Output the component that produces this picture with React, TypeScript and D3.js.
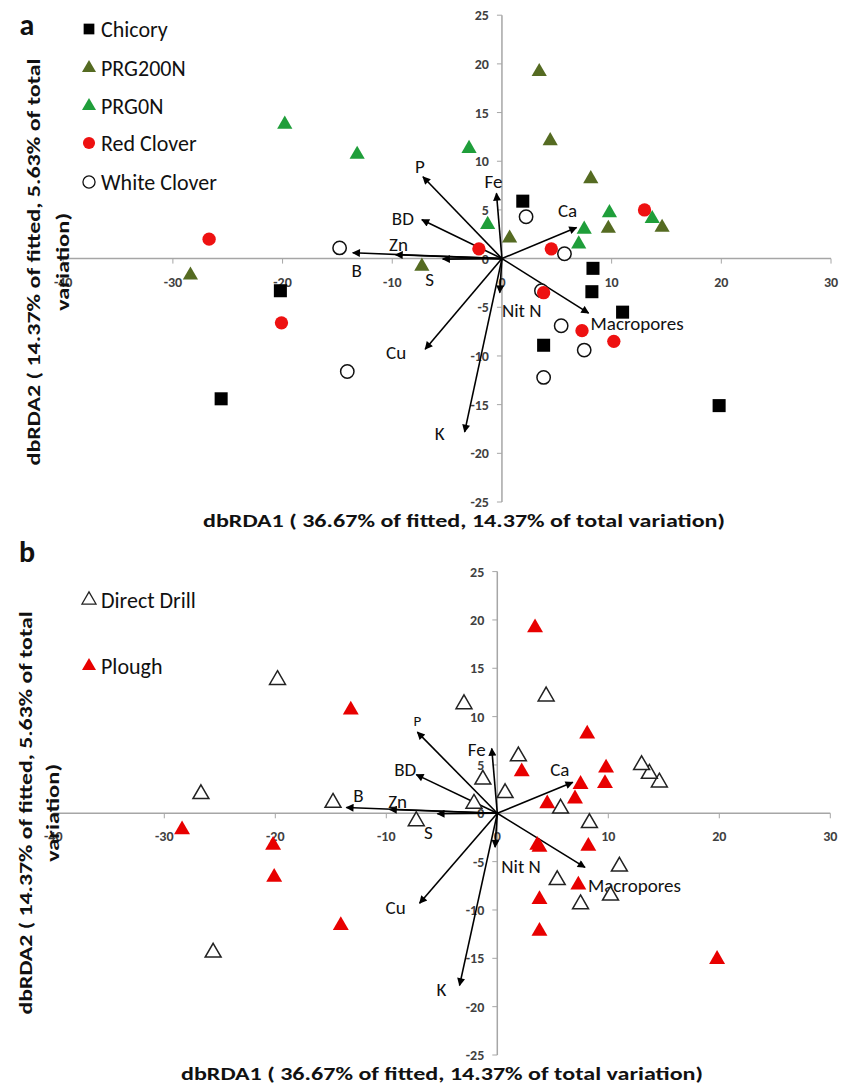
import React, { useEffect, useRef } from 'react';
import * as d3 from 'd3';

// dbRDA scores per treatment (dbRDA1, dbRDA2)
const chicoryX = [1.9, 8.3, 8.2, 11.0, 3.8, 19.8, -20.2, -25.6];
const chicoryY = [5.9, -1.0, -3.4, -5.5, -8.9, -15.1, -3.3, -14.4];
const chicoryTill = ['DD', 'DD', 'P', 'DD', 'P', 'P', 'P', 'DD'];

const prg200X = [-28.4, 3.4, 4.4, 8.1, 9.7, 14.6, 0.7, -7.3];
const prg200Y = [-1.7, 19.2, 12.1, 8.2, 3.1, 3.2, 2.1, -0.8];
const prg200Till = ['P', 'P', 'DD', 'P', 'P', 'DD', 'DD', 'DD'];

const prg0X = [-19.8, -13.2, -3.0, 9.8, 13.7, 7.5, 7.0, -1.3];
const prg0Y = [13.8, 10.7, 11.3, 4.7, 4.1, 3.0, 1.5, 3.5];
const prg0Till = ['DD', 'P', 'DD', 'P', 'DD', 'P', 'P', 'DD'];

const redX = [-26.7, -20.1, -2.1, 4.5, 13.0, 3.8, 7.3, 10.2];
const redY = [2.0, -6.6, 1.0, 1.0, 5.0, -3.5, -7.4, -8.5];
const redTill = ['DD', 'P', 'DD', 'P', 'DD', 'P', 'P', 'DD'];

const whiteX = [-14.8, -14.1, 2.2, 5.7, 5.4, 7.5, 3.8, 3.6];
const whiteY = [1.1, -11.6, 4.3, 0.5, -6.9, -9.4, -12.2, -3.3];
const whiteTill = ['DD', 'P', 'P', 'DD', 'DD', 'DD', 'P', 'P'];

// environmental vectors
const vecNames = ['P', 'Fe', 'BD', 'Zn', 'B', 'S', 'Ca', 'Nit N', 'Macropores', 'Cu', 'K'];
const vecX = [-7.2, -0.5, -7.3, -9.7, -13.6, -5.4, 6.8, -0.2, 7.9, -7.0, -3.4];
const vecY = [8.4, 6.7, 4.0, 0.4, 0.6, -0.05, 3.2, -3.5, -5.6, -9.3, -17.8];

const xTicks = [-40, -30, -20, -10, 0, 10, 20, 30];
const yTicks = [-25, -20, -15, -10, -5, 0, 5, 10, 15, 20, 25];

const xTitle = 'dbRDA1 ( 36.67% of fitted, 14.37% of total variation)';
const yTitle1 = 'dbRDA2 ( 14.37% of fitted, 5.63% of total';
const yTitle2 = 'variation)';

const FONT = "Carlito, Lato, 'Open Sans', sans-serif";

const zip = (xs, ys) => xs.map((x, i) => ({ x, y: ys[i] }));

const groups = [
  { name: 'Chicory', pts: zip(chicoryX, chicoryY), till: chicoryTill, shape: 'square', fill: '#000', stroke: 'none' },
  { name: 'PRG200N', pts: zip(prg200X, prg200Y), till: prg200Till, shape: 'tri', fill: '#556b22', stroke: 'none' },
  { name: 'PRG0N', pts: zip(prg0X, prg0Y), till: prg0Till, shape: 'tri', fill: '#1f9e3a', stroke: 'none' },
  { name: 'Red Clover', pts: zip(redX, redY), till: redTill, shape: 'circle', fill: '#ee1111', stroke: 'none' },
  { name: 'White Clover', pts: zip(whiteX, whiteY), till: whiteTill, shape: 'circle', fill: '#fff', stroke: '#111' },
];

// label nudges from arrow tips, px
const nudgeA = {
  P: [-3, -10], Fe: [-3, -12], BD: [-19, -1], Zn: [3, -10], B: [4, 18], S: [-13, 20],
  Ca: [-9, -17], 'Nit N': [22, 18], Macropores: [2, 10], Cu: [-29, 3], K: [-25, 2],
};
const nudgeB = {
  P: [0, -11], Fe: [-15, 1], BD: [-11, -5], Zn: [8, -8], B: [12, -12], S: [-9, 19],
  Ca: [-13, -13], 'Nit N': [26, 19], Macropores: [3, 18], Cu: [-24, 4], K: [-18, 4],
};

const symbolPath = (shape, big) => {
  if (shape === 'square') return d3.symbol(d3.symbolSquare, 170)();
  if (shape === 'tri') return d3.symbol(d3.symbolTriangle, big ? 110 : 100)();
  return d3.symbol(d3.symbolCircle, 140)();
};

function drawPanel(svg, cfg) {
  const x = d3.scaleLinear().domain([-40, 30]).range([cfg.left, cfg.right]);
  const y = d3.scaleLinear().domain([-25, 25]).range([cfg.bottom, cfg.top]);
  const g = svg.append('g');
  const x0 = x(0), y0 = y(0);

  // axes through the origin
  g.append('line').attr('x1', x(-40)).attr('x2', x(30)).attr('y1', y0).attr('y2', y0)
    .attr('stroke', '#a6a6a6').attr('stroke-width', 1.5);
  g.append('line').attr('x1', x0).attr('x2', x0).attr('y1', y(25)).attr('y2', y(-25))
    .attr('stroke', '#a6a6a6').attr('stroke-width', 1.5);
  g.selectAll('.xt').data(xTicks).enter().append('line')
    .attr('x1', d => x(d)).attr('x2', d => x(d)).attr('y1', y0).attr('y2', y0 + 5)
    .attr('stroke', '#a6a6a6');
  g.selectAll('.yt').data(yTicks).enter().append('line')
    .attr('x1', x0 - 5).attr('x2', x0).attr('y1', d => y(d)).attr('y2', d => y(d))
    .attr('stroke', '#a6a6a6');
  g.selectAll('.xl').data(xTicks).enter().append('text')
    .attr('x', d => x(d)).attr('y', y0 + 28).attr('text-anchor', 'middle')
    .attr('font-size', 14).attr('font-weight', 'bold').attr('fill', '#404040')
    .text(d => d);
  g.selectAll('.yl').data(yTicks).enter().append('text')
    .attr('x', x0 - 13).attr('y', d => y(d) + 5).attr('text-anchor', 'end')
    .attr('font-size', 14).attr('font-weight', 'bold').attr('fill', '#404040')
    .text(d => d);

  // vectors
  const vecs = vecNames.map((n, i) => ({ n, x: vecX[i], y: vecY[i] }));
  g.selectAll('.vec').data(vecs).enter().append('line')
    .attr('x1', x0).attr('y1', y0).attr('x2', d => x(d.x)).attr('y2', d => y(d.y))
    .attr('stroke', '#000').attr('stroke-width', 1.6).attr('marker-end', 'url(#arrow)');
  g.selectAll('.vl').data(vecs).enter().append('text')
    .attr('x', d => x(d.x) + cfg.nudge[d.n][0])
    .attr('y', d => y(d.y) + cfg.nudge[d.n][1])
    .attr('text-anchor', d => (d.n === 'Macropores' ? 'start' : 'middle'))
    .attr('dominant-baseline', 'central')
    .attr('font-size', d => (cfg.small && d.n === 'P' ? 15 : 19))
    .attr('fill', '#111')
    .text(d => d.n);

  // points
  cfg.series.forEach(s => {
    g.selectAll(null).data(s.pts).enter().append('path')
      .attr('d', symbolPath(s.shape, cfg.small))
      .attr('transform', d => `translate(${x(d.x)},${y(d.y)})`)
      .attr('fill', s.fill).attr('stroke', s.stroke).attr('stroke-width', 1.5);
  });

  // legend
  cfg.legend.forEach((s, i) => {
    const ly = cfg.legendY[i];
    g.append('path').attr('d', d3.symbol(s.shape === 'square' ? d3.symbolSquare : s.shape === 'tri' ? d3.symbolTriangle : d3.symbolCircle, s.shape === 'tri' ? 85 : 115)())
      .attr('transform', `translate(89,${ly})`)
      .attr('fill', s.fill).attr('stroke', s.stroke).attr('stroke-width', 1.3);
    g.append('text').attr('x', 101).attr('y', ly).attr('dominant-baseline', 'central')
      .attr('font-size', 22).attr('fill', '#111').text(s.name);
  });

  // titles
  g.append('text').attr('x', cfg.xtX).attr('y', cfg.xtY).attr('text-anchor', 'middle')
    .attr('dominant-baseline', 'central').attr('font-size', 19).attr('font-weight', 'bold')
    .attr('textLength', 522).attr('lengthAdjust', 'spacingAndGlyphs').attr('fill', '#111')
    .text(xTitle);
  g.append('text').attr('transform', `translate(${cfg.yt1X},${cfg.ytY}) rotate(-90)`)
    .attr('text-anchor', 'middle').attr('dominant-baseline', 'central')
    .attr('font-size', 19).attr('font-weight', 'bold').attr('fill', '#111')
    .attr('textLength', cfg.ytLen).attr('lengthAdjust', 'spacingAndGlyphs')
    .text(yTitle1);
  g.append('text').attr('transform', `translate(${cfg.yt2X},${cfg.ytY}) rotate(-90)`)
    .attr('text-anchor', 'middle').attr('dominant-baseline', 'central')
    .attr('font-size', 19).attr('font-weight', 'bold').attr('fill', '#111')
    .attr('textLength', 98).attr('lengthAdjust', 'spacingAndGlyphs')
    .text(yTitle2);
  g.append('text').attr('x', 27).attr('y', cfg.tagY).attr('text-anchor', 'middle')
    .attr('dominant-baseline', 'central').attr('font-size', 30).attr('font-weight', 'bold')
    .attr('fill', '#111').text(cfg.tag);
}

const App = () => {
  const svgRef = useRef(null);

  useEffect(() => {
    const svg = d3.select(svgRef.current);
    svg.selectAll('*').remove();
    svg.attr('font-family', FONT);

    svg.append('defs').append('marker')
      .attr('id', 'arrow').attr('viewBox', '0 0 10 10')
      .attr('refX', 9).attr('refY', 5)
      .attr('markerWidth', 10).attr('markerHeight', 8)
      .attr('markerUnits', 'userSpaceOnUse').attr('orient', 'auto')
      .append('path').attr('d', 'M0,0 L10,5 L0,10 z').attr('fill', '#000');

    // panel a, by treatment (white clover underneath)
    const orderA = [groups[4], groups[3], groups[0], groups[1], groups[2]];
    drawPanel(svg, {
      left: 63.2, right: 831, top: 15.2, bottom: 502,
      nudge: nudgeA, small: false,
      series: orderA,
      legend: groups,
      legendY: [29, 68, 106, 143, 182],
      xtX: 464, xtY: 520, yt1X: 33, yt2X: 62, ytY: 262, ytLen: 407,
      tag: 'a', tagY: 24,
    });

    // panel b, by tillage
    const dd = [], pl = [];
    groups.forEach(gr => gr.pts.forEach((p, i) => (gr.till[i] === 'P' ? pl : dd).push(p)));
    const ddS = { name: 'Direct Drill', pts: dd, shape: 'tri', fill: '#fff', stroke: '#222' };
    const plS = { name: 'Plough', pts: pl, shape: 'tri', fill: '#e80000', stroke: 'none' };
    drawPanel(svg, {
      left: 53.3, right: 830.3, top: 571.6, bottom: 1055,
      nudge: nudgeB, small: true,
      series: [ddS, plS],
      legend: [ddS, plS],
      legendY: [600, 666],
      xtX: 442, xtY: 1073, yt1X: 25, yt2X: 52, ytY: 813, ytLen: 403,
      tag: 'b', tagY: 551,
    });
  }, []);

  return (
    <svg ref={svgRef} width={842} height={1088}
      style={{ position: 'absolute', left: 0, top: 0, background: '#fff' }} />
  );
};

export default App;
